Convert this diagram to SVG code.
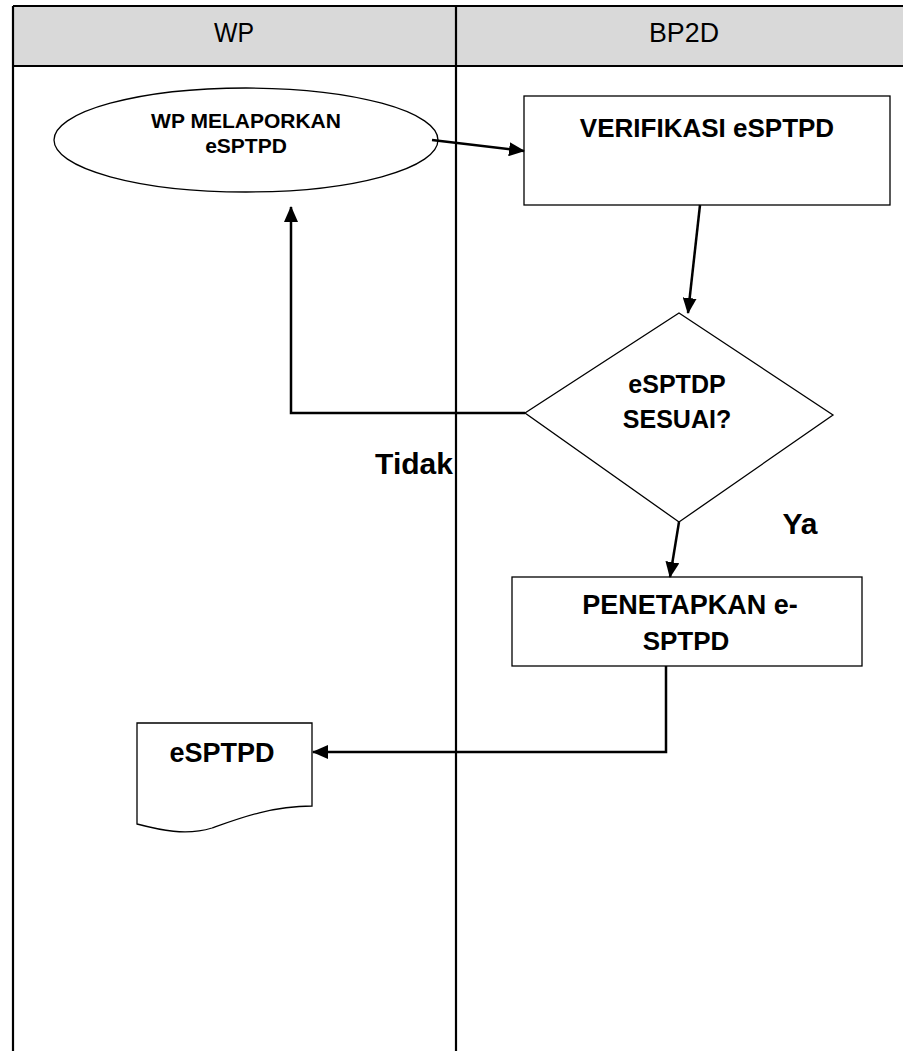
<svg xmlns="http://www.w3.org/2000/svg" width="903" height="1051" viewBox="0 0 903 1051">
<style>
.lane{stroke:#000;stroke-width:2.2;fill:none}
.shape{fill:#fff;stroke:#000;stroke-width:1.3}
.conn{stroke:#000;stroke-width:2.5;fill:none}
.t{font-family:"Liberation Sans",Arial,sans-serif;font-weight:bold;fill:#000;text-anchor:middle}
.h{font-family:"Liberation Sans",Arial,sans-serif;fill:#000;text-anchor:middle;font-size:27px}
</style>
<defs>
<marker id="arr" markerUnits="userSpaceOnUse" markerWidth="16" markerHeight="14" refX="15" refY="7" orient="auto">
<path d="M0,0 L16,7 L0,14 Z" fill="#000"/>
</marker>
</defs>
<g id="lanes">
<rect x="13" y="6" width="892" height="60" fill="#d9d9d9"/>
<path class="lane" d="M13,6 H905 M13,66 H905 M13,6 V1051 M456,6 V1051"/>
<text class="h" x="234" y="42" textLength="40" lengthAdjust="spacingAndGlyphs">WP</text>
<text class="h" x="684" y="42" textLength="70" lengthAdjust="spacingAndGlyphs">BP2D</text>
</g>
<g id="n-lapor">
<ellipse class="shape" cx="246" cy="140" rx="192" ry="52"/>
<text class="t" x="246" y="128" font-size="21">WP MELAPORKAN</text>
<text class="t" x="246" y="153" font-size="21">eSPTPD</text>
</g>
<g id="n-verif">
<rect class="shape" x="524" y="96" width="366" height="109"/>
<text class="t" x="707" y="137" font-size="26">VERIFIKASI eSPTPD</text>
</g>
<g id="n-sesuai">
<polygon class="shape" points="679,313 833,415 679,522 525,413"/>
<text class="t" x="677" y="393" font-size="25">eSPTDP</text>
<text class="t" x="677" y="428" font-size="25">SESUAI?</text>
</g>
<g id="n-tetap">
<rect class="shape" x="512" y="577" width="350" height="89"/>
<text class="t" x="690" y="614" font-size="27">PENETAPKAN e-</text>
<text class="t" x="686" y="650" font-size="26">SPTPD</text>
</g>
<g id="n-doc">
<path class="shape" d="M137,723 H312 V806 C272,806 240,818 212,828 C186,836 160,830 137,824 Z"/>
<text class="t" x="222" y="762" font-size="27">eSPTPD</text>
</g>
<g id="connectors">
<path class="conn" d="M432,140 L524,151" marker-end="url(#arr)"/>
<path class="conn" d="M700,205 L688,313" marker-end="url(#arr)"/>
<path class="conn" d="M525,413 H291 V207" marker-end="url(#arr)"/>
<path class="conn" d="M679,522 L670,577" marker-end="url(#arr)"/>
<path class="conn" d="M666,666 V752 H313" marker-end="url(#arr)"/>
</g>
<g id="labels">
<text class="t" x="414" y="474" font-size="30">Tidak</text>
<text class="t" x="800" y="534" font-size="30">Ya</text>
</g>
</svg>
